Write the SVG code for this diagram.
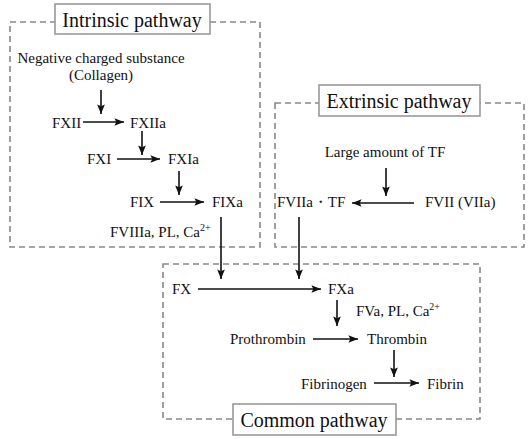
<svg xmlns="http://www.w3.org/2000/svg" width="532" height="439" viewBox="0 0 532 439">
<style>
text{font-family:"Liberation Serif","Times New Roman",serif;font-size:15px;fill:#111}
.t{font-size:20px;text-anchor:middle}
.sup{font-size:10px}
.dash{fill:none;stroke:#888;stroke-width:1.6;stroke-dasharray:6 4}
.tbox{fill:#fff;stroke:#999;stroke-width:1.6}
.a{stroke:#111;stroke-width:1.6;fill:none;marker-end:url(#ah)}
.l{stroke:#111;stroke-width:1.6;fill:none}
</style>
<defs>
<marker id="ah" viewBox="0 0 10 10" refX="10" refY="5" markerWidth="6" markerHeight="6" markerUnits="strokeWidth" orient="auto">
<path d="M0,1 L10,5 L0,9 L2,5 Z" fill="#111"/>
</marker>
</defs>
<g id="intrinsic">
<rect class="dash" x="10" y="22" width="250" height="225"/>
<rect class="tbox" x="55" y="4" width="155" height="30"/>
<text class="t" x="132" y="27">Intrinsic pathway</text>
</g>
<g id="extrinsic">
<rect class="dash" x="275" y="103" width="249" height="144"/>
<rect class="tbox" x="319" y="85" width="161" height="31"/>
<text class="t" x="399" y="108">Extrinsic pathway</text>
</g>
<g id="common">
<rect class="dash" x="163" y="264" width="317" height="155"/>
<rect class="tbox" x="233" y="404" width="163" height="31"/>
<text class="t" x="314" y="427">Common pathway</text>
</g>
<g id="n-negative"><text x="101" y="63" text-anchor="middle">Negative charged substance</text><text x="101" y="80" text-anchor="middle">(Collagen)</text></g>
<g id="n-fxii"><text x="52" y="128">FXII</text></g>
<g id="n-fxiia"><text x="130" y="128">FXIIa</text></g>
<g id="n-fxi"><text x="87" y="164">FXI</text></g>
<g id="n-fxia"><text x="168" y="164">FXIa</text></g>
<g id="n-fix"><text x="130" y="207">FIX</text></g>
<g id="n-fixa"><text x="212" y="207">FIXa</text></g>
<g id="n-fviiia"><text x="110" y="237">FVIIIa, PL, Ca<tspan class="sup" dy="-6">2+</tspan></text></g>
<g id="n-tf"><text x="385" y="157" text-anchor="middle">Large amount of TF</text></g>
<g id="n-fviia-tf"><text x="277" y="207">FVIIa・TF</text></g>
<g id="n-fvii"><text x="425" y="207">FVII (VIIa)</text></g>
<g id="n-fx"><text x="172" y="294">FX</text></g>
<g id="n-fxa"><text x="328" y="294">FXa</text></g>
<g id="n-fva"><text x="356" y="316">FVa, PL, Ca<tspan class="sup" dy="-6">2+</tspan></text></g>
<g id="n-prothrombin"><text x="230" y="344">Prothrombin</text></g>
<g id="n-thrombin"><text x="367" y="344">Thrombin</text></g>
<g id="n-fibrinogen"><text x="301" y="389">Fibrinogen</text></g>
<g id="n-fibrin"><text x="427" y="389">Fibrin</text></g>
<g id="connectors">
<line class="a" x1="101" y1="90" x2="101" y2="114"/>
<line class="a" x1="83" y1="122" x2="124" y2="122"/>
<line class="a" x1="142" y1="131" x2="142" y2="155"/>
<line class="a" x1="117" y1="159" x2="160" y2="159"/>
<line class="a" x1="179" y1="171" x2="179" y2="195"/>
<line class="a" x1="160" y1="202" x2="204" y2="202"/>
<line class="a" x1="221" y1="217" x2="221" y2="279"/>
<line class="a" x1="386" y1="168" x2="386" y2="196"/>
<line class="a" x1="414" y1="203" x2="352" y2="203"/>
<line class="a" x1="299" y1="217" x2="299" y2="279"/>
<line class="a" x1="198" y1="289" x2="321" y2="289"/>
<line class="a" x1="337" y1="300" x2="337" y2="326"/>
<line class="a" x1="313" y1="339" x2="358" y2="339"/>
<line class="a" x1="394" y1="350" x2="394" y2="377"/>
<line class="a" x1="374" y1="383" x2="419" y2="383"/>
</g>
</svg>
